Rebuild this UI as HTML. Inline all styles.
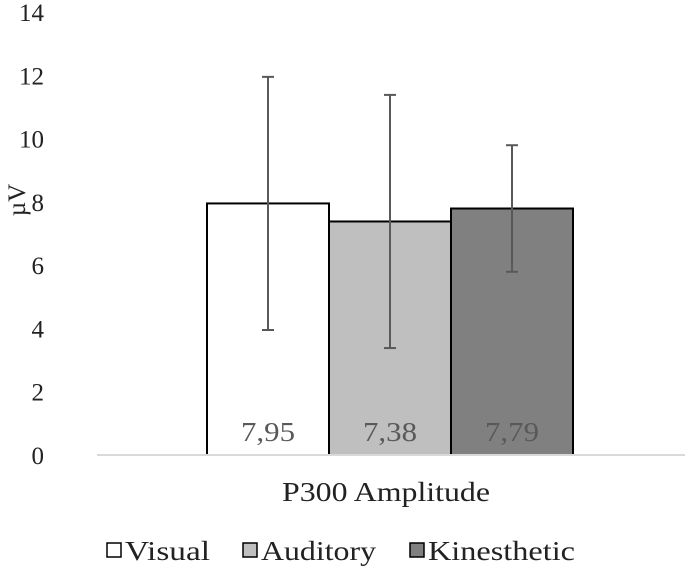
<!DOCTYPE html>
<html><head><meta charset="utf-8"><style>
html,body{margin:0;padding:0;background:#fff;}
svg, svg text{font-family:"Liberation Serif","Times New Roman",Times,serif;}
</style></head><body>
<svg id="chart" width="685" height="568" viewBox="0 0 685 568"></svg>
<script>
const categories = ["Visual","Auditory","Kinesthetic"];
const values = [7.95,7.38,7.79];
const errors = [4,4,2];
const valueLabels = ["7,95","7,38","7,79"];
const yTicks = [0,2,4,6,8,10,12,14];
const fills = ["#ffffff","#bfbfbf","#808080"];
const NS="http://www.w3.org/2000/svg";
const svg=document.getElementById('chart');
const FF='Liberation Serif, Times New Roman, serif';
const y0=455, yTop=12, yMax=14;
const yScale=v=>y0-(y0-yTop)*v/yMax;
const barStart=207, barW=122;
const xBar=i=>barStart+i*barW;
function mk(tag,attrs,parent){const e=document.createElementNS(NS,tag);for(const k in attrs)e.setAttribute(k,attrs[k]);if(tag==='text')e.setAttribute('font-family',FF);(parent||svg).appendChild(e);return e;}
yTicks.forEach(t=>{
  const tx=mk('text',{x:44,y:yScale(t)+9,'text-anchor':'end','font-size':25,fill:'#222'});
  
  
  tx.textContent=t;
});
const yl=mk('text',{x:0,y:0,transform:'translate(25,200) rotate(-90)','text-anchor':'middle','font-size':25,fill:'#222'});


yl.textContent='µV';
categories.forEach((c,i)=>{
  const r=mk('rect',{x:xBar(i),y:yScale(values[i]),width:barW,height:y0-yScale(values[i]),fill:fills[i],stroke:'#000','stroke-width':2});
  
  
});
const ax=mk('line',{x1:97,x2:685,y1:y0,y2:y0,stroke:'#d9d9d9','stroke-width':2});


categories.forEach((c,i)=>{
  const cx=xBar(i)+barW/2;
  const hi=yScale(values[i]+errors[i]), lo=yScale(values[i]-errors[i]);
  const g=mk('g',{stroke:'#595959','stroke-width':2});
  
  
  mk('line',{x1:cx,x2:cx,y1:hi,y2:lo},g);
  mk('line',{x1:cx-6,x2:cx+6,y1:hi,y2:hi},g);
  mk('line',{x1:cx-6,x2:cx+6,y1:lo,y2:lo},g);
  const t=mk('text',{x:cx,y:441,'text-anchor':'middle','font-size':27,fill:'#595959',textLength:54,lengthAdjust:'spacingAndGlyphs'});
  
  
  t.textContent=valueLabels[i];
});
const xt=mk('text',{x:386,y:501,'text-anchor':'middle','font-size':27,fill:'#222',textLength:208,lengthAdjust:'spacingAndGlyphs'});


xt.textContent='P300 Amplitude';
const legX=[107,243,410], legW=[85,115,147];
categories.forEach((c,i)=>{
  const g=mk('g',{});
  
  
  mk('rect',{x:legX[i],y:543,width:14,height:14,fill:fills[i],stroke:'#000','stroke-width':1.5},g);
  const t=mk('text',{x:legX[i]+18,y:560,'font-size':27,fill:'#222',textLength:legW[i],lengthAdjust:'spacingAndGlyphs'},g);
  t.textContent=c;
});
</script>
</body></html>
